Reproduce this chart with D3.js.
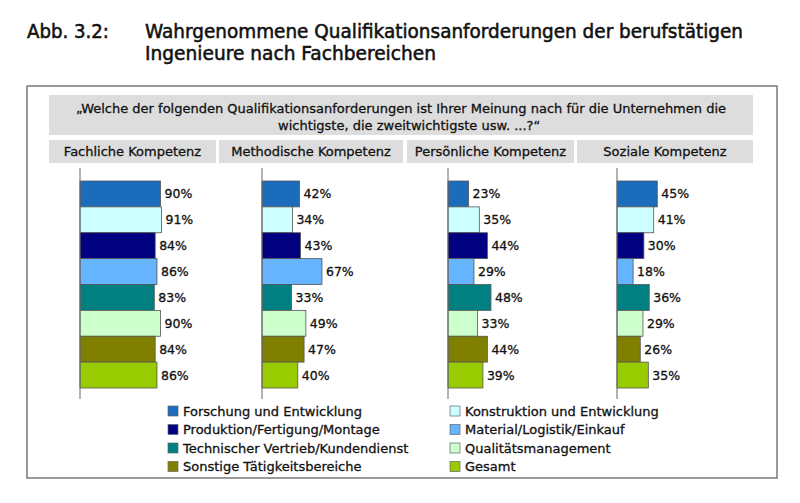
<!DOCTYPE html>
<html>
<head>
<meta charset="utf-8">
<script src="https://cdn.jsdelivr.net/npm/d3@7"></script>
<style>
  body { margin: 0; background: #fff; }
  svg { display: block; font-family: "DejaVu Sans", Verdana, sans-serif; }
  text { fill: #111; stroke: #111; stroke-width: 0.3px; }
  text.title { stroke-width: 0.55px; }
</style>
</head>
<body>
<svg width="800" height="503"></svg>
<script>
// data
const panels = ["Fachliche Kompetenz", "Methodische Kompetenz", "Persönliche Kompetenz", "Soziale Kompetenz"];
const groups = [
  "Forschung und Entwicklung",
  "Konstruktion und Entwicklung",
  "Produktion/Fertigung/Montage",
  "Material/Logistik/Einkauf",
  "Technischer Vertrieb/Kundendienst",
  "Qualitätsmanagement",
  "Sonstige Tätigkeitsbereiche",
  "Gesamt"
];
const fachlich    = [90, 91, 84, 86, 83, 90, 84, 86];
const methodisch  = [42, 34, 43, 67, 33, 49, 47, 40];
const persoenlich = [23, 35, 44, 29, 48, 33, 44, 39];
const sozial      = [45, 41, 30, 18, 36, 29, 26, 35];
const panelValues = [fachlich, methodisch, persoenlich, sozial];

const colors = ["#1c6cbc", "#ccffff", "#000080", "#66b3ff", "#008080", "#ccffcc", "#808000", "#99cc00"];

// layout
const headerX = [49, 219, 407, 577];
const headerW = [167, 184, 167, 176];
const axisX = [80, 262, 448, 617];

const svg = d3.select("svg");

function fit(sel, w) {
  sel.attr("textLength", w).attr("lengthAdjust", "spacingAndGlyphs");
}

// title
svg.append("text").attr("class", "title").attr("x", 27).attr("y", 37.5)
  .attr("font-size", 19)
  .text("Abb. 3.2:").call(fit, 82);
svg.append("text").attr("class", "title").attr("x", 145).attr("y", 37.5)
  .attr("font-size", 19)
  .text("Wahrgenommene Qualifikationsanforderungen der berufstätigen").call(fit, 598);
svg.append("text").attr("class", "title").attr("x", 145).attr("y", 59.5)
  .attr("font-size", 19)
  .text("Ingenieure nach Fachbereichen").call(fit, 291);

// frame
svg.append("rect").attr("x", 27).attr("y", 86).attr("width", 750).attr("height", 392)
  .attr("fill", "#fff").attr("stroke", "#7a7a7a").attr("stroke-width", 1.5);

// question box
svg.append("rect").attr("x", 49).attr("y", 95).attr("width", 704).attr("height", 40)
  .attr("fill", "#dddddd");
svg.append("text").attr("x", 401).attr("y", 112.5).attr("text-anchor", "middle")
  .attr("font-size", 13)
  .text("„Welche der folgenden Qualifikationsanforderungen ist Ihrer Meinung nach für die Unternehmen die")
  .call(fit, 650);
svg.append("text").attr("x", 278).attr("y", 129.5)
  .attr("font-size", 13)
  .text("wichtigste, die zweitwichtigste usw. ...?“");

const y = d3.scaleBand().domain(groups).range([181, 388]).padding(0);
const x = d3.scaleLinear().domain([0, 100]).range([0, 89.5]);

panels.forEach((name, p) => {
  svg.append("rect").attr("x", headerX[p]).attr("y", 140)
    .attr("width", headerW[p]).attr("height", 23).attr("fill", "#dddddd");
  svg.append("text").attr("x", headerX[p] + headerW[p] / 2).attr("y", 156)
    .attr("text-anchor", "middle").attr("font-size", 13)
    .text(name);

  const g = svg.append("g").attr("transform", `translate(${axisX[p]},0)`);
  const rows = groups.map((k, i) => ({ k, v: panelValues[p][i], c: colors[i] }));

  g.selectAll("rect").data(rows).join("rect")
    .attr("x", 0).attr("y", d => y(d.k))
    .attr("width", d => x(d.v)).attr("height", y.bandwidth())
    .attr("fill", d => d.c).attr("stroke", "#555").attr("stroke-width", 0.8);

  g.selectAll("text").data(rows).join("text")
    .attr("x", d => x(d.v) + 4).attr("y", d => y(d.k) + y.bandwidth() / 2)
    .attr("dy", "0.36em").attr("font-size", 12.5)
    .text(d => d.v + "%");

  g.append("line").attr("x1", 0).attr("x2", 0).attr("y1", 168).attr("y2", 399)
    .attr("stroke", "#666").attr("stroke-width", 1);
});

// legend
const legX = [168, 450];
const legY = d3.scalePoint().domain([0, 1, 2, 3]).range([411, 466.5]);
const leg = svg.append("g").selectAll("g").data(groups).join("g")
  .attr("transform", (d, i) => `translate(${legX[i % 2]},${legY(Math.floor(i / 2))})`);
leg.append("rect").attr("x", 0).attr("y", -5).attr("width", 10).attr("height", 10)
  .attr("fill", (d, i) => colors[i]).attr("stroke", "#666").attr("stroke-width", 0.7);
leg.append("text").attr("x", 15).attr("dy", "0.36em").attr("font-size", 13)
  .text(d => d);
</script>
</body>
</html>
